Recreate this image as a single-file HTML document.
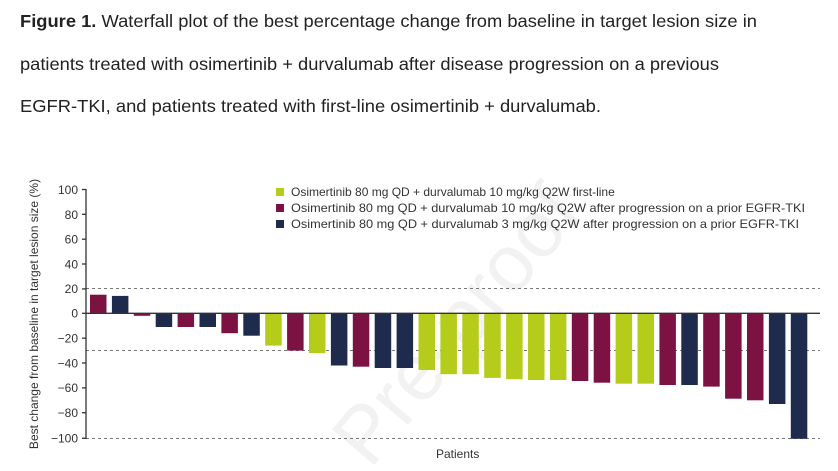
<!DOCTYPE html>
<html><head><meta charset="utf-8"><style>
html,body{margin:0;padding:0;background:#fff;width:838px;height:471px;overflow:hidden}
svg{display:block;font-family:"Liberation Sans",Arial,sans-serif}
</style></head><body>
<svg width="838" height="471" viewBox="0 0 838 471" xmlns="http://www.w3.org/2000/svg">
<g font-size="17.5" fill="#222">
<text x="20" y="27" textLength="737" lengthAdjust="spacingAndGlyphs"><tspan font-weight="bold">Figure 1.</tspan> Waterfall plot of the best percentage change from baseline in target lesion size in</text>
<text x="20" y="70" textLength="699" lengthAdjust="spacingAndGlyphs">patients treated with osimertinib + durvalumab after disease progression on a previous</text>
<text x="20" y="112" textLength="581" lengthAdjust="spacingAndGlyphs">EGFR-TKI, and patients treated with first-line osimertinib + durvalumab.</text>
</g>
<text x="0" y="0" font-size="80" fill="#f2f2f2" transform="translate(370,470) rotate(-50)">Pre-proof</text>
<g stroke="#777" stroke-width="1" stroke-dasharray="3,3">
<line x1="86" y1="288.5" x2="820" y2="288.5"/>
<line x1="86" y1="350.5" x2="820" y2="350.5"/>
<line x1="86" y1="438.5" x2="820" y2="438.5"/>
</g>
<g id="bars"></g>
<g stroke="#333" stroke-width="1.3">
<line x1="86" y1="189" x2="86" y2="439"/>
<line x1="86" y1="313.3" x2="820" y2="313.3"/>
<line x1="82" y1="189.5" x2="86" y2="189.5"/><line x1="82" y1="214.3" x2="86" y2="214.3"/>
<line x1="82" y1="239.2" x2="86" y2="239.2"/><line x1="82" y1="264" x2="86" y2="264"/>
<line x1="82" y1="288.9" x2="86" y2="288.9"/><line x1="82" y1="313.3" x2="86" y2="313.3"/>
<line x1="82" y1="338.2" x2="86" y2="338.2"/><line x1="82" y1="363" x2="86" y2="363"/>
<line x1="82" y1="387.9" x2="86" y2="387.9"/><line x1="82" y1="412.7" x2="86" y2="412.7"/>
<line x1="82" y1="438.3" x2="86" y2="438.3"/>
</g>
<g font-size="12" fill="#333" text-anchor="end">
<text x="78" y="194">100</text><text x="78" y="219">80</text><text x="78" y="243.5">60</text>
<text x="78" y="268.5">40</text><text x="78" y="293">20</text><text x="78" y="317.5">0</text>
<text x="78" y="342.5">−20</text><text x="78" y="367.5">−40</text><text x="78" y="392">−60</text>
<text x="78" y="417">−80</text><text x="78" y="442.5">−100</text>
</g>
<text transform="translate(38,314) rotate(-90)" font-size="12" fill="#333" text-anchor="middle">Best change from baseline in target lesion size (%)</text>
<text x="436" y="458" font-size="12" fill="#333">Patients</text>
<rect x="276" y="188" width="8" height="8" fill="#b5cc1a"/>
<rect x="276" y="204" width="8" height="8" fill="#7b1242"/>
<rect x="276" y="220" width="8" height="8" fill="#1e2b4d"/>
<g font-size="12" fill="#333">
<text x="291" y="196">Osimertinib 80 mg QD + durvalumab 10 mg/kg Q2W first-line</text>
<text x="291" y="212" textLength="514" lengthAdjust="spacingAndGlyphs">Osimertinib 80 mg QD + durvalumab 10 mg/kg Q2W after progression on a prior EGFR-TKI</text>
<text x="291" y="228" textLength="508" lengthAdjust="spacingAndGlyphs">Osimertinib 80 mg QD + durvalumab 3 mg/kg Q2W after progression on a prior EGFR-TKI</text>
</g>
</svg>
<script>
var d=[["r",15],["n",14],["r",-2],["n",-11],["r",-11],["n",-11],["r",-16],["n",-18],["g",-26],["r",-30],["g",-32],["n",-42],["r",-43],["n",-44],["n",-44],["g",-45.6],["g",-49],["g",-49],["g",-52],["g",-53],["g",-53.7],["g",-53.7],["r",-54.5],["r",-55.8],["g",-56.6],["g",-56.6],["r",-57.7],["n",-57.7],["r",-59],["r",-68.7],["r",-70],["n",-73],["n",-101]];
var c={g:"#b5cc1a",r:"#7b1242",n:"#1e2b4d"};var s="",z=313.3,k=1.243;
d.forEach(function(b,i){var x=90+i*21.9,y=b[1]>0?z-b[1]*k:z,h=Math.abs(b[1])*k;s+='<rect x="'+x.toFixed(1)+'" y="'+y.toFixed(1)+'" width="16.5" height="'+h.toFixed(1)+'" fill="'+c[b[0]]+'"/>';});
document.getElementById("bars").innerHTML=s;
</script>
</body></html>
